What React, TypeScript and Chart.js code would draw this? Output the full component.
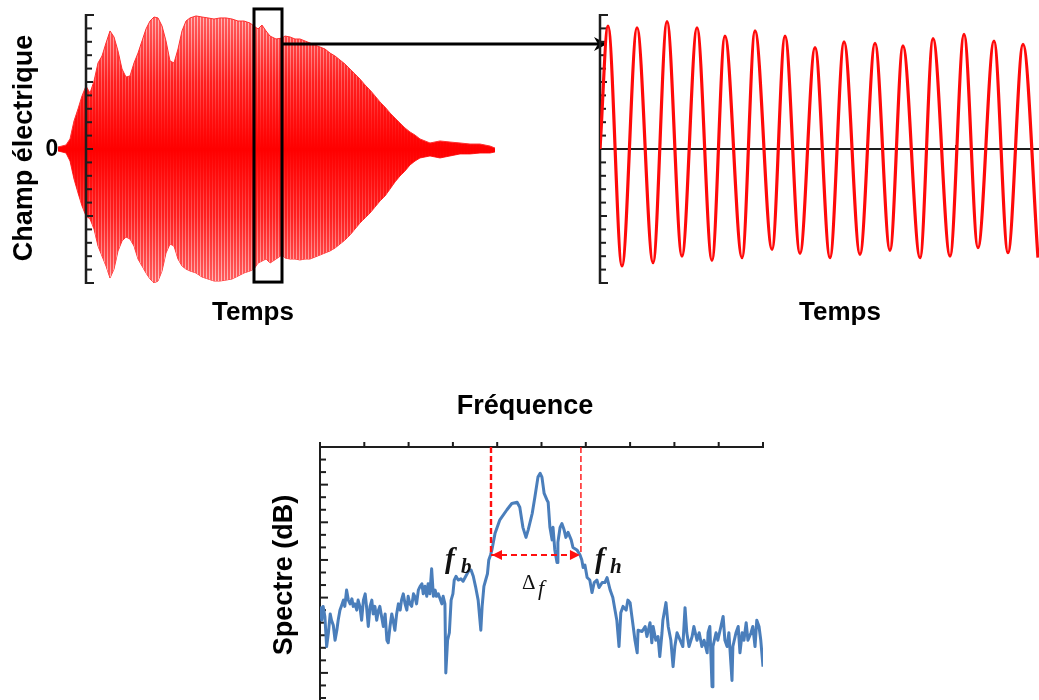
import React, { useEffect, useRef } from "react";
import { Chart, registerables } from "chart.js";

Chart.register(...registerables);

const PAGE_W = 1039;
const PAGE_H = 700;

// ---------------- Top-left: electric field envelope (time, field) ----------------
const envTime = [
  0, 0.4, 0.8, 1.2, 1.6, 2.0, 2.4, 2.8, 3.2, 3.6, 4.0, 4.4, 4.8, 5.2, 5.6, 6.0, 6.4, 6.8, 7.2, 7.6,
  8.0, 8.4, 8.8, 9.2, 9.6, 10.0, 10.4, 10.8, 11.2, 11.6, 12.0, 12.4, 12.8, 13.2, 13.8, 14.4, 15.0,
  15.6, 16.2, 16.8, 17.4, 18.0, 18.6, 19.2, 19.6, 20.0, 20.4, 20.8, 21.2, 21.8, 22.4, 22.7, 23.2,
  23.7, 24.2, 24.7, 25.2, 25.7, 26.2, 26.7, 27.2, 27.7, 28.2, 28.7, 29.2, 29.7, 30.2, 30.7, 31.2,
  31.7, 32.2, 32.7, 33.2, 33.7, 34.2, 34.7, 35.2, 35.7, 36.2, 37.2, 38.2, 39.2, 40.2, 41.2, 42.2,
  43.2, 43.7,
];
const envUpper = [
  0.15, 0.22, 0.3, 0.75, 2.09, 2.99, 3.96, 4.7, 4.18, 5.07, 6.42, 6.94, 7.91, 8.81, 8.36, 7.31, 5.97,
  5.37, 5.45, 6.42, 7.16, 8.06, 8.96, 9.55, 9.85, 9.78, 9.18, 8.06, 6.57, 6.42, 7.46, 8.81, 9.55,
  9.78, 9.93, 9.85, 9.78, 9.7, 9.78, 9.78, 9.7, 9.55, 9.55, 9.4, 9.18, 8.96, 9.25, 8.81, 8.43, 8.21,
  8.28, 8.43, 8.36, 8.21, 8.21, 8.06, 7.91, 7.76, 7.61, 7.46, 7.16, 6.94, 6.64, 6.34, 5.97, 5.6,
  5.22, 4.78, 4.4, 3.96, 3.51, 3.13, 2.69, 2.31, 1.94, 1.57, 1.27, 1.04, 0.75, 0.45, 0.6, 0.52, 0.45,
  0.37, 0.37, 0.22, 0.07,
];
const envLower = [
  -0.15, -0.22, -0.3, -0.9, -2.24, -3.28, -4.25, -5.0, -5.22, -5.97, -7.24, -7.99, -8.73, -9.63,
  -8.96, -7.61, -6.87, -6.57, -6.72, -7.24, -8.21, -8.73, -9.25, -9.7, -10.0, -9.85, -9.1, -7.76,
  -7.09, -7.24, -8.21, -8.73, -8.96, -9.1, -9.25, -9.55, -9.7, -9.85, -9.85, -9.78, -9.7, -9.48,
  -9.25, -9.1, -8.96, -8.51, -8.36, -8.21, -8.51, -8.21, -7.91, -8.13, -8.21, -8.21, -8.28, -8.21,
  -8.21, -8.06, -7.91, -7.76, -7.61, -7.39, -7.09, -6.79, -6.42, -5.97, -5.52, -5.15, -4.78, -4.33,
  -3.88, -3.51, -2.99, -2.46, -2.01, -1.64, -1.19, -0.9, -0.67, -0.52, -0.67, -0.52, -0.37, -0.37,
  -0.3, -0.3, -0.22,
];
const zoomWindow = [19.6, 22.4];
const zoomBoxRange = [-9.93, 10.45];
const arrowLevel = 7.84;
const leftAxisTime = 2.8;

// ---------------- Top-right: zoomed oscillation (time, field) ----------------
const sineTime = [
  0, 0.09, 0.247, 0.416, 0.596, 0.753, 0.921, 1.09, 1.258, 1.404, 1.596, 1.742, 1.933, 2.079, 2.247,
  2.416, 2.584, 2.742, 2.921, 3.09, 3.258, 3.404, 3.596, 3.742, 3.933, 4.09, 4.247, 4.427, 4.584,
  4.753, 4.921,
];
const sineField = [
  0, 9.18, -8.73, 9.05, -8.48, 9.5, -7.99, 9.05, -8.31, 8.43, -8.11, 8.81, -7.49, 8.43, -7.79, 7.56,
  -8.11, 8.0, -7.86, 7.89, -7.56, 7.69, -8.11, 8.23, -7.99, 8.56, -7.36, 8.06, -7.74, 7.81, -8.11,
];
const timeTicks = [1, 2, 3, 4];

// ---------------- Bottom: spectrum (frequency, dB) ----------------
const specFreq = [
  0.0, 0.4, 0.7, 1.1, 1.5, 1.9, 2.3, 2.6, 3.0, 3.4, 3.8, 4.1, 4.5, 4.9, 5.3, 5.6, 6.0, 6.4, 6.8, 7.2,
  7.5, 7.9, 8.3, 8.6, 9.0, 9.4, 9.8, 10.2, 10.5, 10.9, 11.3, 11.7, 12.0, 12.4, 12.8, 13.2, 13.5, 13.9,
  14.3, 14.7, 15.1, 15.4, 15.8, 16.2, 16.5, 16.9, 17.3, 17.7, 18.1, 18.4, 18.8, 19.2, 19.6, 19.9,
  20.3, 20.7, 21.1, 21.4, 21.8, 22.2, 22.6, 23.0, 23.3, 23.7, 24.1, 24.4, 24.8, 25.2, 25.6, 26.0,
  26.3, 26.7, 27.1, 27.5, 27.8, 28.2, 28.4, 28.8, 29.2, 29.6, 30.0, 30.3, 30.7, 31.2, 31.8, 32.3,
  32.9, 33.5, 34.1, 34.6, 35.1, 35.7, 36.3, 36.6, 37.0, 37.4, 37.8, 38.1, 38.5, 38.8, 39.5, 40.6,
  42.2, 43.3, 44.5, 45.1, 45.8, 46.5, 47.0, 47.9, 48.5, 49.2, 49.7, 50.1, 50.6, 51.2, 51.5, 51.9,
  52.4, 52.6, 53.0, 53.5, 53.7, 54.2, 54.6, 55.1, 55.5, 56.0, 56.7, 57.1, 58.0, 58.7, 59.1, 59.4,
  59.8, 60.3, 60.9, 61.4, 61.9, 62.5, 63.0, 63.7, 64.3, 64.8, 65.5, 66.1, 66.6, 67.0, 67.5, 67.9,
  68.4, 69.1, 69.5, 70.0, 70.4, 70.7, 71.1, 71.6, 71.8, 72.7, 73.4, 73.8, 74.5, 74.9, 75.2, 75.8,
  76.3, 76.7, 77.2, 77.4, 78.1, 78.6, 79.2, 79.7, 80.1, 80.6, 81.3, 81.9, 82.4, 82.8, 83.3, 84.0,
  84.4, 85.1, 85.6, 86.2, 86.7, 87.4, 87.6, 88.0, 88.5, 88.7, 89.4, 89.8, 90.5, 91.0, 91.4, 91.9,
  92.3, 93.0, 93.2, 93.9, 94.4, 94.8, 95.3, 95.7, 96.2, 96.6, 97.3, 97.7, 98.2, 98.6, 99.1, 99.5,
  100.0,
];
const specDb = [
  -12.7, -13.8, -12.7, -13.5, -15.9, -14.8, -13.3, -13.8, -14.2, -15.4, -14.6, -13.8, -13.0, -12.6,
  -12.2, -12.7, -11.4, -12.2, -12.5, -12.1, -12.7, -12.5, -13.0, -12.2, -12.7, -13.8, -12.2, -11.7,
  -12.7, -14.3, -12.7, -12.2, -13.3, -12.7, -13.8, -13.0, -12.7, -13.5, -14.3, -13.3, -15.4, -15.6,
  -14.3, -13.3, -13.8, -14.6, -13.3, -12.5, -13.0, -12.2, -11.7, -12.5, -13.0, -11.9, -12.5, -12.7,
  -11.7, -11.9, -12.5, -11.4, -11.1, -10.9, -11.7, -11.1, -11.9, -10.9, -11.7, -9.7, -11.9, -11.4,
  -11.9, -11.7, -12.1, -12.5, -11.9, -12.5, -18.0, -15.4, -14.8, -12.2, -11.7, -10.6, -10.3, -10.6,
  -10.5, -10.7, -10.3, -9.9, -9.8, -10.3, -11.1, -12.2, -14.6, -12.7, -11.1, -10.6, -10.1, -9.0,
  -8.6, -8.2, -6.9, -5.8, -5.0, -4.5, -4.4, -4.8, -6.4, -7.2, -6.6, -5.3, -4.0, -2.4, -2.1, -2.4,
  -3.7, -4.2, -4.4, -6.4, -7.4, -6.4, -8.2, -9.2, -7.6, -6.4, -6.1, -6.6, -7.2, -6.8, -7.4, -8.0,
  -8.2, -8.6, -9.0, -9.6, -9.4, -10.4, -10.6, -11.6, -10.8, -10.6, -11.2, -10.8, -10.8, -10.4,
  -11.4, -12.0, -13.0, -13.8, -15.9, -13.2, -12.7, -13.0, -12.2, -12.4, -13.5, -14.3, -15.4, -16.4,
  -14.6, -14.7, -14.3, -15.1, -14.0, -15.6, -14.3, -15.4, -15.1, -16.7, -14.8, -13.8, -12.4, -14.3,
  -15.4, -17.5, -15.9, -14.8, -15.4, -15.9, -12.8, -14.8, -15.9, -15.1, -14.3, -15.4, -14.8, -15.9,
  -15.4, -16.4, -14.8, -14.3, -19.1, -15.9, -14.8, -15.4, -14.3, -13.5, -15.4, -15.9, -14.8, -18.6,
  -15.9, -14.8, -14.3, -16.4, -14.8, -15.4, -14.0, -15.4, -14.8, -14.3, -15.9, -13.8, -14.3, -15.4,
  -17.5,
];
const freqTicks = [0, 10, 20, 30, 40, 50, 60, 70, 80, 90, 100];
const fLow = 38.6;
const fHigh = 58.9;
const bandLevel = -8.6;

// ---------------- layout (plot areas in page pixels) ----------------
const AREA_L = { left: 58, right: 495, top: 15, bottom: 283 };
const AREA_R = { left: 600, right: 1039, top: 15, bottom: 283 };
const AREA_S = { left: 320, right: 763, top: 447, bottom: 700 };
const pad = (a: { left: number; right: number; top: number; bottom: number }) => ({
  left: a.left,
  top: a.top,
  right: PAGE_W - a.right,
  bottom: PAGE_H - a.bottom,
});

const AXIS = "#1e1e1e";

function seg(ctx: CanvasRenderingContext2D, x1: number, y1: number, x2: number, y2: number, w: number, c: string) {
  ctx.save();
  ctx.beginPath();
  ctx.moveTo(x1, y1);
  ctx.lineTo(x2, y2);
  ctx.lineWidth = w;
  ctx.strokeStyle = c;
  ctx.lineCap = "butt";
  ctx.stroke();
  ctx.restore();
}

function fieldAxis(chart: any, xValue: number) {
  const ctx = chart.ctx as CanvasRenderingContext2D;
  const xs = chart.scales.x;
  const ys = chart.scales.y;
  const x = xs.getPixelForValue(xValue);
  const yTop = ys.getPixelForValue(10);
  const yBot = ys.getPixelForValue(-10);
  seg(ctx, x, yTop - 1, x, yBot + 1, 2.5, AXIS);
  for (let v = -10; v <= 10; v++) {
    const y = ys.getPixelForValue(v);
    const len = Math.abs(v) === 10 ? 8 : v % 5 === 0 ? 7 : 6;
    seg(ctx, x, y, x + len, y, 2, AXIS);
  }
}

// striped red texture for the dense oscillation (vertical stripes, lighter toward the edges)
function makeStripePattern(ctx: CanvasRenderingContext2D, yMid: number, half: number) {
  const c = document.createElement("canvas");
  c.width = 3;
  c.height = PAGE_H;
  const p = c.getContext("2d")!;
  const g1 = p.createLinearGradient(0, yMid - half, 0, yMid + half);
  g1.addColorStop(0, "rgb(255,95,95)");
  g1.addColorStop(0.25, "rgb(255,30,30)");
  g1.addColorStop(0.5, "rgb(255,0,0)");
  g1.addColorStop(0.75, "rgb(255,30,30)");
  g1.addColorStop(1, "rgb(255,95,95)");
  const g2 = p.createLinearGradient(0, yMid - half, 0, yMid + half);
  g2.addColorStop(0, "rgb(255,190,190)");
  g2.addColorStop(0.2, "rgb(255,110,110)");
  g2.addColorStop(0.38, "rgb(255,40,40)");
  g2.addColorStop(0.5, "rgb(255,0,0)");
  g2.addColorStop(0.62, "rgb(255,40,40)");
  g2.addColorStop(0.8, "rgb(255,110,110)");
  g2.addColorStop(1, "rgb(255,190,190)");
  p.fillStyle = g1;
  p.fillRect(0, 0, 2, PAGE_H);
  p.fillStyle = g2;
  p.fillRect(2, 0, 1, PAGE_H);
  return ctx.createPattern(c, "repeat");
}

const baseOptions = (area: any, xmin: number, xmax: number, ymin: number, ymax: number) => ({
  animation: false as const,
  responsive: false,
  devicePixelRatio: 1,
  events: [] as any[],
  layout: { padding: pad(area) },
  plugins: { legend: { display: false }, tooltip: { enabled: false }, title: { display: false } },
  scales: {
    x: { type: "linear" as const, min: xmin, max: xmax, display: false },
    y: { type: "linear" as const, min: ymin, max: ymax, display: false },
  },
});

export default function App() {
  const leftRef = useRef<HTMLCanvasElement>(null);
  const rightRef = useRef<HTMLCanvasElement>(null);
  const specRef = useRef<HTMLCanvasElement>(null);

  useEffect(() => {
    const charts: Chart[] = [];

    // ---- top-left ----
    const leftPlugin = {
      id: "leftDecor",
      afterDatasetsDraw(chart: any) {
        const ctx = chart.ctx as CanvasRenderingContext2D;
        fieldAxis(chart, leftAxisTime);
        const xs = chart.scales.x;
        const ys = chart.scales.y;
        const x1 = xs.getPixelForValue(zoomWindow[0]);
        const x2 = xs.getPixelForValue(zoomWindow[1]);
        const yT = ys.getPixelForValue(zoomBoxRange[1]);
        const yB = ys.getPixelForValue(zoomBoxRange[0]);
        ctx.save();
        ctx.lineWidth = 3;
        ctx.strokeStyle = "#000";
        ctx.strokeRect(x1, yT, x2 - x1, yB - yT);
        // arrow to the zoomed panel
        const ya = ys.getPixelForValue(arrowLevel);
        const tip = AREA_R.left + 7;
        seg(ctx, x2, ya, tip - 4, ya, 3, "#000");
        ctx.beginPath();
        ctx.moveTo(tip, ya);
        ctx.lineTo(tip - 13, ya - 7);
        ctx.lineTo(tip - 9, ya);
        ctx.lineTo(tip - 13, ya + 7);
        ctx.closePath();
        ctx.fillStyle = "#000";
        ctx.fill();
        ctx.restore();
      },
    };
    let pattern: CanvasPattern | null = null;
    if (leftRef.current) {
      const lctx = leftRef.current.getContext("2d")!;
      const yMid = (AREA_L.top + AREA_L.bottom) / 2;
      pattern = makeStripePattern(lctx, yMid, (AREA_L.bottom - AREA_L.top) / 2);
      charts.push(
        new Chart(leftRef.current, {
          type: "line",
          data: {
            datasets: [
              {
                data: envTime.map((t, i) => ({ x: t, y: envUpper[i] })),
                borderColor: "#ff3030",
                borderWidth: 1,
                pointRadius: 0,
                tension: 0,
                fill: "+1",
                backgroundColor: (pattern || "#ff0000") as any,
              },
              {
                data: envTime.map((t, i) => ({ x: t, y: envLower[i] })),
                borderColor: "#ff3030",
                borderWidth: 1,
                pointRadius: 0,
                tension: 0,
                fill: false,
              },
            ],
          },
          options: baseOptions(AREA_L, 0, 43.7, -10, 10) as any,
          plugins: [leftPlugin],
        })
      );
    }

    // ---- top-right ----
    const rightPlugin = {
      id: "rightDecor",
      beforeDatasetsDraw(chart: any) {
        const ctx = chart.ctx as CanvasRenderingContext2D;
        const xs = chart.scales.x;
        const ys = chart.scales.y;
        const y0 = ys.getPixelForValue(0);
        seg(ctx, xs.getPixelForValue(0), y0, chart.chartArea.right, y0, 2, AXIS);
        timeTicks.forEach((t) => {
          const x = xs.getPixelForValue(t);
          seg(ctx, x, y0, x, y0 - 4, 2, AXIS);
        });
        fieldAxis(chart, 0);
      },
    };
    if (rightRef.current) {
      charts.push(
        new Chart(rightRef.current, {
          type: "line",
          data: {
            datasets: [
              {
                data: sineTime.map((t, i) => ({ x: t, y: sineField[i] })),
                borderColor: "#ff0a0a",
                borderWidth: 3.2,
                pointRadius: 0,
                cubicInterpolationMode: "monotone",
                fill: false,
              },
            ],
          },
          options: baseOptions(AREA_R, 0, 439 / 89, -10, 10) as any,
          plugins: [rightPlugin],
        })
      );
    }

    // ---- spectrum ----
    const specPlugin = {
      id: "specDecor",
      beforeDatasetsDraw(chart: any) {
        const ctx = chart.ctx as CanvasRenderingContext2D;
        const xs = chart.scales.x;
        const ys = chart.scales.y;
        const yTop = ys.getPixelForValue(0);
        const x0 = xs.getPixelForValue(0);
        seg(ctx, x0 - 1, yTop, xs.getPixelForValue(100) + 1, yTop, 2, AXIS);
        freqTicks.forEach((f) => {
          const x = xs.getPixelForValue(f);
          seg(ctx, x, yTop, x, yTop - 5, 2, AXIS);
        });
        seg(ctx, x0, yTop, x0, chart.chartArea.bottom, 2, AXIS);
        for (let v = -1; v >= -20; v--) {
          const y = ys.getPixelForValue(v);
          const len = v % 3 === 0 ? 8 : 6;
          seg(ctx, x0, y, x0 + len, y, 2, AXIS);
        }
      },
      afterDatasetsDraw(chart: any) {
        const ctx = chart.ctx as CanvasRenderingContext2D;
        const xs = chart.scales.x;
        const ys = chart.scales.y;
        const y = ys.getPixelForValue(bandLevel);
        const xl = xs.getPixelForValue(fLow) + 1;
        const xr = xs.getPixelForValue(fHigh) - 1;
        ctx.save();
        ctx.fillStyle = "#ff1010";
        ctx.beginPath();
        ctx.moveTo(xl, y);
        ctx.lineTo(xl + 10, y - 5);
        ctx.lineTo(xl + 10, y + 5);
        ctx.closePath();
        ctx.fill();
        ctx.beginPath();
        ctx.moveTo(xr, y);
        ctx.lineTo(xr - 10, y - 5);
        ctx.lineTo(xr - 10, y + 5);
        ctx.closePath();
        ctx.fill();
        ctx.restore();
      },
    };
    if (specRef.current) {
      charts.push(
        new Chart(specRef.current, {
          type: "line",
          data: {
            datasets: [
              {
                data: [
                  { x: fLow, y: 0 },
                  { x: fLow, y: bandLevel },
                ],
                borderColor: "#ff1010",
                borderWidth: 2.4,
                borderDash: [6, 3],
                pointRadius: 0,
                fill: false,
              },
              {
                data: [
                  { x: fHigh, y: 0 },
                  { x: fHigh, y: bandLevel },
                ],
                borderColor: "#ff1010",
                borderWidth: 1.4,
                borderDash: [6, 3],
                pointRadius: 0,
                fill: false,
              },
              {
                data: [
                  { x: fLow, y: bandLevel },
                  { x: fHigh, y: bandLevel },
                ],
                borderColor: "#ff1010",
                borderWidth: 2,
                borderDash: [6, 4],
                pointRadius: 0,
                fill: false,
              },
              {
                data: specFreq.map((f, i) => ({ x: f, y: specDb[i] })),
                borderColor: "#4a7ebb",
                borderWidth: 3,
                pointRadius: 0,
                tension: 0,
                borderJoinStyle: "round",
                fill: false,
              },
            ],
          },
          options: baseOptions(AREA_S, 0, 100, -253 / 12.55, 0) as any,
          plugins: [specPlugin],
        })
      );
    }

    return () => charts.forEach((c) => c.destroy());
  }, []);

  const canvasStyle: React.CSSProperties = {
    position: "absolute",
    left: 0,
    top: 0,
    width: PAGE_W,
    height: PAGE_H,
  };
  const sans = "'Liberation Sans', Arial, Helvetica, sans-serif";
  const serif = "'Liberation Serif', 'Times New Roman', 'DejaVu Serif', serif";

  return (
    <div
      style={{
        position: "fixed",
        left: 0,
        top: 0,
        width: PAGE_W,
        height: PAGE_H,
        background: "#ffffff",
        overflow: "hidden",
      }}
    >
      <canvas ref={leftRef} width={PAGE_W} height={PAGE_H} style={canvasStyle} />
      <canvas ref={rightRef} width={PAGE_W} height={PAGE_H} style={canvasStyle} />
      <canvas ref={specRef} width={PAGE_W} height={PAGE_H} style={canvasStyle} />
      <svg width={PAGE_W} height={PAGE_H} style={{ position: "absolute", left: 0, top: 0 }}>
        <g fontFamily={sans} fontWeight="bold" fill="#000" textAnchor="middle">
          <text x={32} y={148} fontSize={27} transform="rotate(-90 32 148)">
            Champ électrique
          </text>
          <text x={52} y={156} fontSize={23}>
            0
          </text>
          <text x={253} y={320} fontSize={26}>
            Temps
          </text>
          <text x={840} y={320} fontSize={26}>
            Temps
          </text>
          <text x={525} y={414} fontSize={27}>
            Fréquence
          </text>
          <text x={292} y={575} fontSize={27} transform="rotate(-90 292 575)">
            Spectre (dB)
          </text>
        </g>
        <g fontFamily={serif} fill="#111">
          <text x={445} y={568} fontSize={29} fontStyle="italic" fontWeight="bold">
            f
          </text>
          <text x={461} y={573} fontSize={21} fontStyle="italic" fontWeight="bold">
            b
          </text>
          <text x={595} y={568} fontSize={29} fontStyle="italic" fontWeight="bold">
            f
          </text>
          <text x={610} y={573} fontSize={21} fontStyle="italic" fontWeight="bold">
            h
          </text>
          <text x={522} y={589} fontSize={21}>
            Δ
          </text>
          <text x={538} y={595} fontSize={22} fontStyle="italic">
            f
          </text>
        </g>
      </svg>
    </div>
  );
}
